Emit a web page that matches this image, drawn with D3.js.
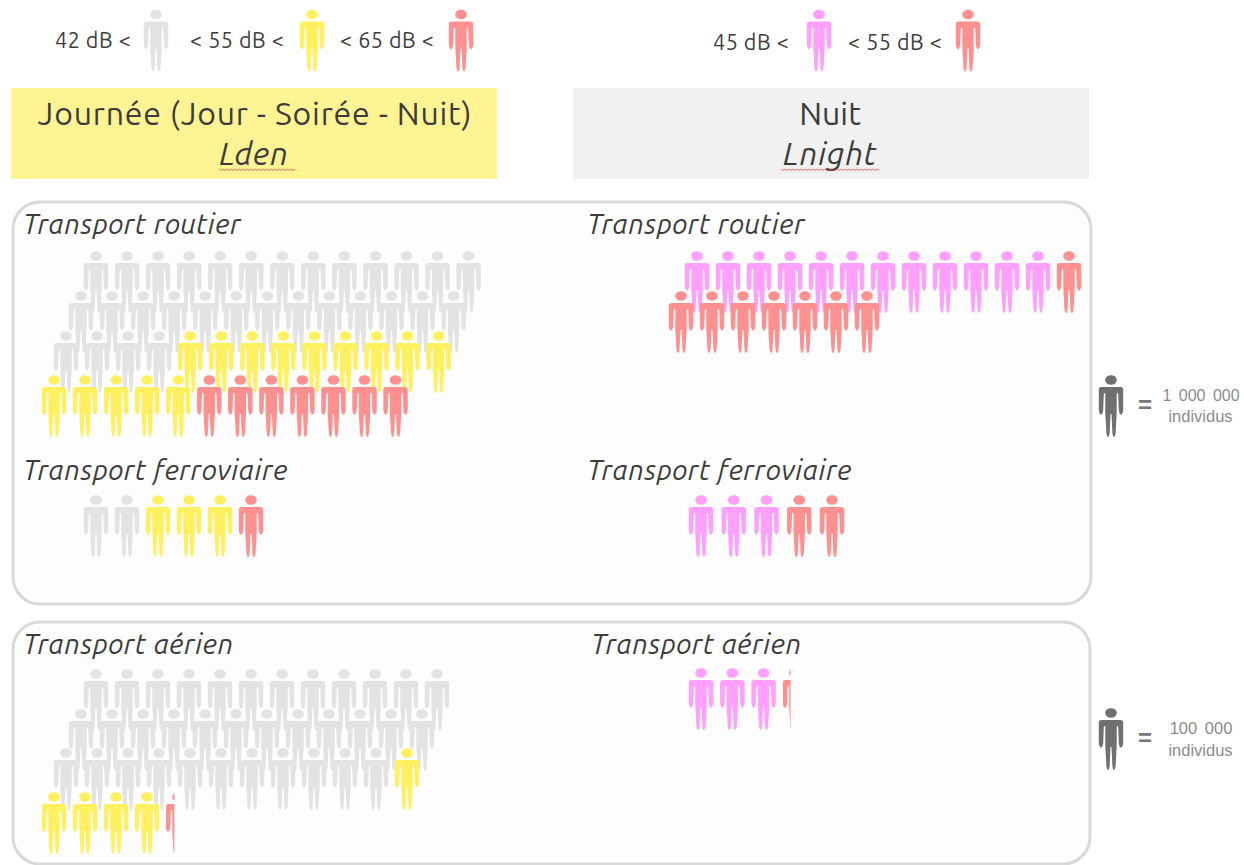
<!DOCTYPE html>
<html><head><meta charset="utf-8">
<script src="https://cdn.jsdelivr.net/npm/d3@7/dist/d3.min.js"></script>
<style>html,body{margin:0;padding:0;background:#fff}svg{display:block}</style>
</head><body><svg id="c" width="1244" height="865"></svg>
<script>
// ---- data: persons per noise band, and how many persons are drawn per row (top row first)
const roadDayCounts  = [30, 14, 7];      const roadDayRows  = [13, 13, 13, 12];
const roadNightCounts= [12, 8];          const roadNightRows= [13, 7];
const railDayCounts  = [2, 3, 1];        const railDayRows  = [6];
const railNightCounts= [3, 2];           const railNightRows= [5];
const airDayCounts   = [35, 5, 0.35];    const airDayRows   = [12, 12, 12, 5];
const airNightCounts = [3, 0.32];        const airNightRows = [4];
const dayBands   = ["quiet", "mid", "loud"];
const nightBands = ["night", "loud"];
const legendLabels = ["42 dB <", "< 55 dB <", "< 65 dB <", "45 dB <", "< 55 dB <"];
const sectionTitles = ["Transport routier", "Transport ferroviaire", "Transport aérien"];
const scaleLabels = ["1 000 000", "100 000"];

// ---- styles
const colors = {quiet:"#e3e3e3", mid:"#fff060", loud:"#ff9090", night:"#ff9fff", key:"#6f6f6f"};
const FONT = "Ubuntu, 'Open Sans', sans-serif";
const svg = d3.select("#c");
const defs = svg.append("defs");
defs.append("filter").attr("id","soft").attr("x","-10%").attr("y","-10%").attr("width","120%").attr("height","120%")
  .append("feGaussianBlur").attr("stdDeviation",0.55);

// person glyph, origin at head top / body centre, 62 high, 24 wide
const personBody = "M-9.5 12 H9.5 Q12.2 12 12.2 14.5 L12.2 35 Q11.8 39 10 39.8 Q8.2 39 7.8 35 L7.2 19 Q7 18 6.4 18 Q5.9 18 5.7 19 L5.7 38 L4.6 58 Q3.9 62 2.9 62 Q1.9 62 1.4 58 L0.5 39 H-0.5 L-1.4 58 Q-1.9 62 -2.9 62 Q-3.9 62 -4.6 58 L-5.7 38 L-5.7 19 Q-5.9 18 -6.4 18 Q-7 18 -7.2 19 L-7.8 35 Q-8.2 39 -10 39.8 Q-11.8 39 -12.2 35 L-12.2 14.5 Q-12.2 12 -9.5 12 Z";
let clipId = 0;
function person(g, cx, top, color, fraction) {
  const p = g.append("g").attr("transform",`translate(${cx},${top})`);
  if (fraction < 1) {
    const id = "clip" + (clipId++);
    defs.append("clipPath").attr("id",id).append("rect")
      .attr("x",-12).attr("y",-2).attr("width",24*fraction).attr("height",66);
    p.attr("clip-path",`url(#${id})`);
  }
  const s = p.append("g").attr("filter","url(#soft)");
  s.append("ellipse").attr("cx",0).attr("cy",5).attr("rx",5.8).attr("ry",4.8).attr("fill",color);
  s.append("path").attr("d",personBody).attr("fill",color);
}

// expand band counts into one entry per drawn person
function expand(counts, bands) {
  const out = [];
  counts.forEach((c,i)=>{
    for (let k=0;k<Math.floor(c);k++) out.push({band:bands[i],f:1});
    if (c%1>0) out.push({band:bands[i],f:c%1});
  });
  return out;
}

// draws a block of persons; rowStarts/rowTops are layout
function block(counts, bands, rows, rowStarts, rowTops, step) {
  const people = expand(counts, bands);
  const g = svg.append("g");
  const col = d3.scaleLinear().domain([0,1]).range([0,step]);
  const row = d3.scaleOrdinal().domain(d3.range(rows.length)).range(rowTops);
  const start = d3.scaleOrdinal().domain(d3.range(rows.length)).range(rowStarts);
  let n = 0;
  rows.forEach((r,ri)=>{
    for (let i=0;i<r && n<people.length;i++,n++) {
      person(g, start(ri)+col(i), row(ri), colors[people[n].band], people[n].f);
    }
  });
}

function text(s,x,y,size,opt={}) {
  return svg.append("text").text(s).attr("x",x).attr("y",y)
    .attr("font-family",opt.font||FONT).attr("font-size",size)
    .attr("font-style",opt.italic?"italic":"normal")
    .attr("font-weight",opt.weight||"normal")
    .attr("letter-spacing",opt.ls||0).attr("word-spacing",opt.ws||0)
    .attr("text-anchor",opt.anchor||"start").attr("fill",opt.fill||"#3c3c3c");
}
function squiggle(x0,x1,y){
  const p = d3.path(); p.moveTo(x0,y);
  let up=true; for(let x=x0+2;x<=x1;x+=2){p.lineTo(x,up?y+1.5:y);up=!up;}
  svg.append("path").attr("d",p.toString()).attr("fill","none").attr("stroke","#e45050").attr("stroke-width",0.8);
}

// ---- legend row
const LG = {ls:0.55};
text(legendLabels[0],55,48,21.5,LG);
text(legendLabels[1],190,48,21.5,LG);
text(legendLabels[2],340,48,21.5,LG);
text(legendLabels[3],713,50,21.5,LG);
text(legendLabels[4],848,50,21.5,LG);
const lg = svg.append("g");
person(lg,156,9.5,colors.quiet,1);
person(lg,312,9.5,colors.mid,1);
person(lg,461,9.5,colors.loud,1);
person(lg,819,9.5,colors.night,1);
person(lg,968,9.5,colors.loud,1);

// ---- headers
svg.append("rect").attr("x",11).attr("y",88).attr("width",486).attr("height",91).attr("fill","#fff494");
svg.append("rect").attr("x",573).attr("y",88).attr("width",516).attr("height",91).attr("fill","#f1f1f1");
const HD = {anchor:"middle", ls:0.8};
text("Journée (Jour - Soirée - Nuit)",255,125,32,HD);
text("Lden",254,165,32,{...HD,italic:true});
squiggle(219,295,169);
text("Nuit",830,125,32,{anchor:"middle"});
text("Lnight",830,165,32,{...HD,italic:true});
squiggle(781,880,169);

// ---- panels
svg.append("rect").attr("x",13).attr("y",202).attr("width",1078).attr("height",402).attr("rx",27)
  .attr("fill","#fdfdfd").attr("stroke","#d9d9d9").attr("stroke-width",3);
svg.append("rect").attr("x",13).attr("y",622).attr("width",1077).attr("height",242).attr("rx",27)
  .attr("fill","#fdfdfd").attr("stroke","#d9d9d9").attr("stroke-width",3);

// ---- section titles
[[23,234,0],[587,234,0],[23,480,1],[587,480,1],[23,654,2],[591,654,2]].forEach(([x,y,i])=>
  text(sectionTitles[i],x,y,28,{italic:true,ls:0.55}));

// ---- blocks
block(roadDayCounts, dayBands, roadDayRows, [96,81,66,54], [251,291,331,375], 31.05);
block(roadNightCounts, nightBands, roadNightRows, [697,681], [251,291], 31);
block(railDayCounts, dayBands, railDayRows, [96], [495], 31);
block(railNightCounts, nightBands, railNightRows, [701], [495], 32.75);
block(airDayCounts, dayBands, airDayRows, [96,81,66,54], [669,709,748,792], 31);
block(airNightCounts, nightBands, airNightRows, [701], [668], 31.3);

// ---- unit keys
const kg = svg.append("g");
person(kg,1111,375,colors.key,1);
person(kg,1111,708,colors.key,1);
const ARIAL = "'Liberation Sans', Arial, sans-serif";
const EQ = {anchor:"middle",font:ARIAL,fill:"#777",weight:"bold"};
text("=",1145,413,24,EQ);
text("=",1145,746,24,EQ);
const KT = {anchor:"middle",font:ARIAL,fill:"#8c8c8c"};
text(scaleLabels[0],1201,401,16,{...KT,ws:3}).attr("xml:space","preserve");
text("individus",1200.5,422,16.5,KT);
text(scaleLabels[1],1201,734,16.5,{...KT,ws:3});
text("individus",1200.5,756,16.5,KT);
</script></body></html>
